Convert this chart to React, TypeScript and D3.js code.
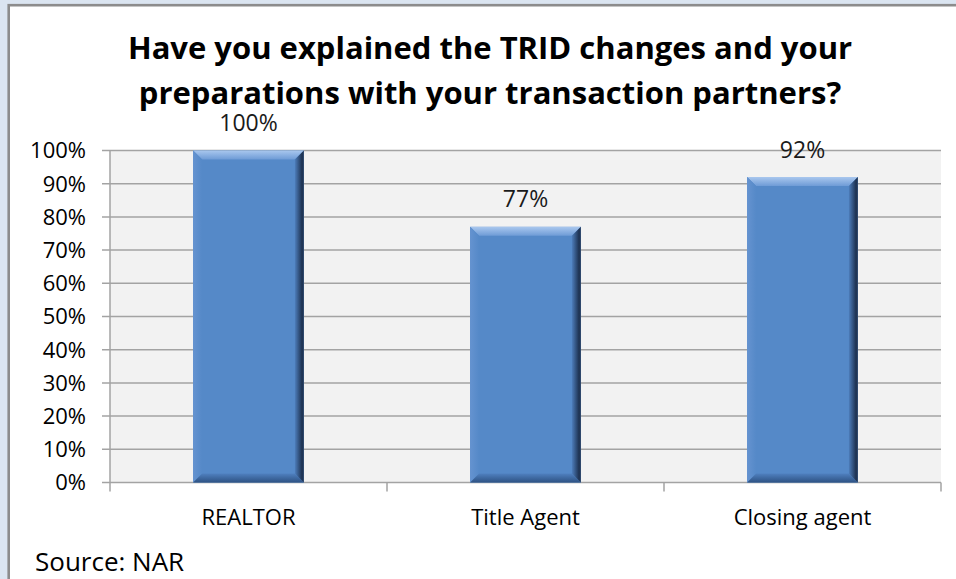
import * as React from "react";
import * as d3 from "d3";

const categories = ["REALTOR", "Title Agent", "Closing agent"];
const values = [100, 77, 92];
const yTicks = [0, 10, 20, 30, 40, 50, 60, 70, 80, 90, 100];
const titleLines = [
  "Have you explained the TRID changes and your",
  "preparations with your transaction partners?",
];
const source = "Source: NAR";

const W = 956;
const H = 579;
const font = "'Open Sans', 'Noto Sans', sans-serif";

const App = () => {
  const x = d3.scaleBand().domain(categories).range([110, 941]).paddingInner(0.6).paddingOuter(0.3);
  const xCat = d3.scaleBand().domain(categories).range([110, 941]);
  const y = d3.scaleLinear().domain([0, 100]).range([482.5, 150.5]);
  const b = 9;

  return (
    <svg width={W} height={H} style={{ position: "absolute", left: 0, top: 0 }}>
      <defs>
        <linearGradient id="gTop" x1="0" y1="0" x2="0" y2="1">
          <stop offset="0" stopColor="#a9c7ee" />
          <stop offset="1" stopColor="#6e9bd6" />
        </linearGradient>
        <linearGradient id="gLeft" x1="0" y1="0" x2="1" y2="0">
          <stop offset="0" stopColor="#6593d0" />
          <stop offset="1" stopColor="#5589c8" />
        </linearGradient>
        <linearGradient id="gRight" x1="0" y1="0" x2="1" y2="0">
          <stop offset="0" stopColor="#4d7dbb" />
          <stop offset="0.8" stopColor="#1d3150" />
          <stop offset="1" stopColor="#2c4466" />
        </linearGradient>
        <linearGradient id="gBottom" x1="0" y1="0" x2="0" y2="1">
          <stop offset="0" stopColor="#4f80bf" />
          <stop offset="1" stopColor="#2e5283" />
        </linearGradient>
      </defs>
      <rect x={0} y={0} width={W} height={H} fill="#dbe5f1" />
      <rect x={8.7} y={5.2} width={W + 10} height={H + 10} fill="#ffffff" stroke="#8c8c8c" strokeWidth={2.6} />

      {titleLines.map((t, i) => (
        <text key={t} x={490} y={59 + i * 44.5} textAnchor="middle" fontFamily={font} fontWeight="bold" fontSize={31} fill="#000">
          {t}
        </text>
      ))}

      <rect x={110} y={y(100)} width={831} height={y(0) - y(100)} fill="#f2f2f2" />
      {yTicks.map(t => (
        <g key={t}>
          <line x1={102} x2={941} y1={y(t)} y2={y(t)} stroke="#a3a3a3" strokeWidth={1.5} />
          <text x={86} y={y(t) + 7.8} textAnchor="end" fontFamily={font} fontSize={22} fill="#000">
            {t}%
          </text>
        </g>
      ))}
      <line x1={110} x2={110} y1={y(100)} y2={y(0) + 9} stroke="#a3a3a3" strokeWidth={1.5} />
      {categories.map(c => (
        <line key={c} x1={(xCat(c) as number) + xCat.bandwidth()} x2={(xCat(c) as number) + xCat.bandwidth()} y1={y(0)} y2={y(0) + 9} stroke="#a3a3a3" strokeWidth={1.5} />
      ))}

      {categories.map((c, i) => {
        const x0 = x(c) as number;
        const w = x.bandwidth();
        const y0 = y(values[i]);
        const h = y(0) - y0;
        const x1 = x0 + w;
        const y1 = y0 + h;
        const cx = (xCat(c) as number) + xCat.bandwidth() / 2;
        return (
          <g key={c}>
            <rect x={x0} y={y0} width={w} height={h} fill="#5589c8" />
            <polygon points={`${x0},${y0} ${x1},${y0} ${x1 - b},${y0 + b} ${x0 + b},${y0 + b}`} fill="url(#gTop)" />
            <polygon points={`${x0},${y0} ${x0 + b},${y0 + b} ${x0 + b},${y1 - b} ${x0},${y1}`} fill="url(#gLeft)" />
            <polygon points={`${x0},${y1} ${x1},${y1} ${x1 - b},${y1 - b} ${x0 + b},${y1 - b}`} fill="url(#gBottom)" />
            <polygon points={`${x1},${y0} ${x1},${y1} ${x1 - b},${y1 - b} ${x1 - b},${y0 + b}`} fill="url(#gRight)" />
            <text x={cx} y={y0 - 19.5} textAnchor="middle" fontFamily={font} fontSize={23} fill="#1a1a1a">
              {values[i]}%
            </text>
            <text x={cx} y={525} textAnchor="middle" fontFamily={font} fontSize={22} fill="#000">
              {c}
            </text>
          </g>
        );
      })}

      <text x={35} y={571} fontFamily={font} fontSize={26} fill="#000">
        {source}
      </text>
    </svg>
  );
};

export default App;
